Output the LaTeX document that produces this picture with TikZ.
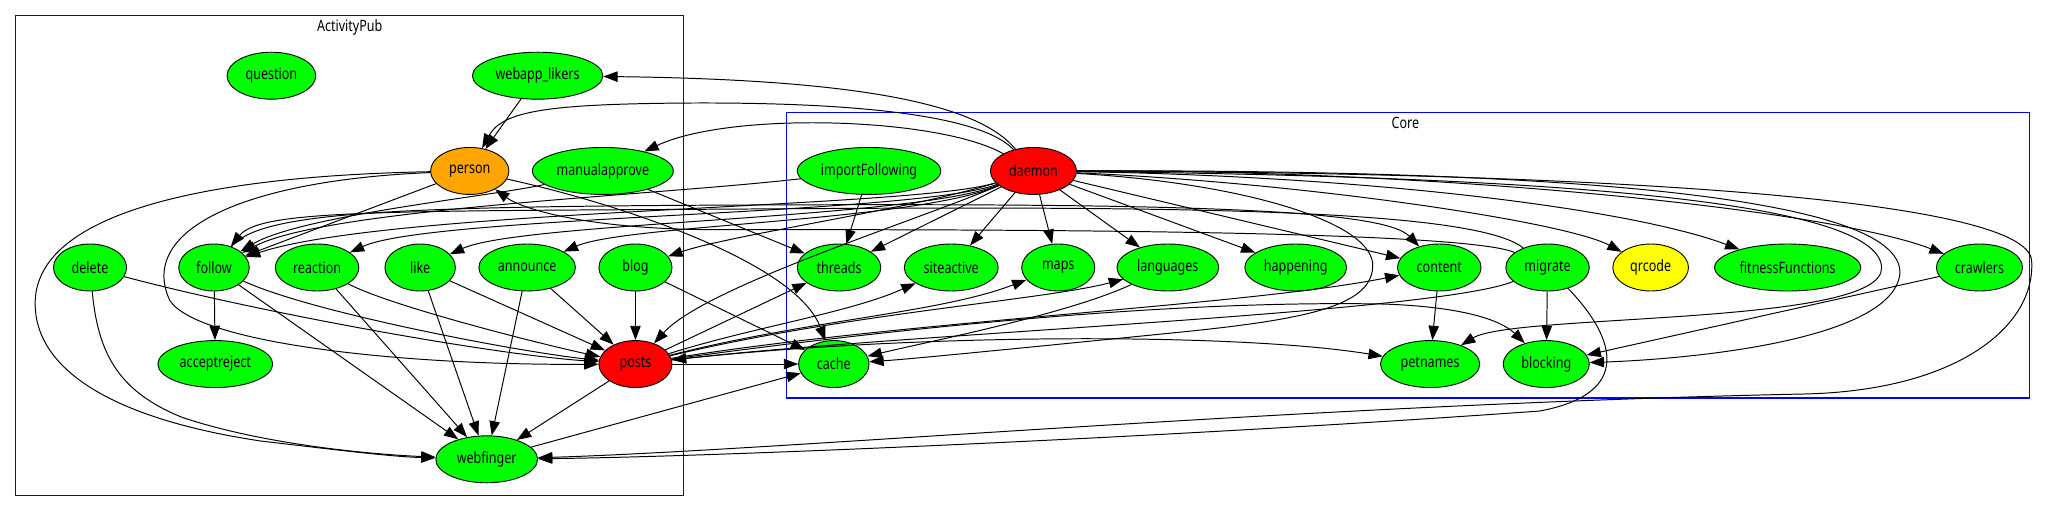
\documentclass[tikz,border=0pt]{standalone}
\usepackage{fontspec}
\setmainfont{Noto Sans}[FakeStretch=0.8]
\usetikzlibrary{shapes.geometric,arrows.meta}
\definecolor{gv green}{HTML}{00FF00}
\definecolor{gv red}{HTML}{FF0000}
\definecolor{gv orange}{HTML}{FFA500}
\definecolor{gv yellow}{HTML}{FFFF00}
\definecolor{gv blue}{HTML}{0000FF}
\begin{document}
\begin{tikzpicture}[x=1pt,y=-1pt,
  gnode/.style={ellipse,draw=black,line width=0.7pt,minimum height=36pt,inner sep=0pt,font=\fontsize{12}{14}\selectfont},
  gr/.style={gnode,fill=gv green},
  rd/.style={gnode,fill=gv red},
  og/.style={gnode,fill=gv orange},
  yl/.style={gnode,fill=gv yellow},
  edge/.style={draw=black,line width=0.75pt,-{Triangle[length=11pt,width=8pt]}},
  cluster/.style={draw=gv blue,line width=0.8pt},
  clabel/.style={font=\fontsize{12}{14}\selectfont,inner sep=0pt}]
\useasboundingbox (0,0) rectangle (1568,392);
% clusters
\draw[cluster] (12,12) rectangle (524,380);
\node[clabel] (lab1) at (268,21) {ActivityPub};
\draw[cluster] (603,86) rectangle (1555,305);
\node[clabel] (lab2) at (1077,94) {Core};
% nodes
\node[gr,minimum width=68pt] (question) at (208,58) {question};
\node[gr,minimum width=100pt] (webapp_likers) at (412,58) {webapp\_likers};
\node[og,minimum width=60pt] (person) at (360,131) {person};
\node[gr,minimum width=108pt] (manualapprove) at (462,131) {manualapprove};
\node[gr,minimum width=110pt] (importFollowing) at (666,131) {importFollowing};
\node[rd,minimum width=66pt] (daemon) at (792,131) {daemon};
\node[gr,minimum width=56pt] (delete) at (69,205) {delete};
\node[gr,minimum width=54pt] (follow) at (164,205) {follow};
\node[gr,minimum width=64pt] (reaction) at (243,205) {reaction};
\node[gr,minimum width=54pt] (like) at (322,205) {like};
\node[gr,minimum width=74pt] (announce) at (404,205) {announce};
\node[gr,minimum width=56pt] (blog) at (487,205) {blog};
\node[gr,minimum width=64pt] (threads) at (643,205) {threads};
\node[gr,minimum width=72pt] (siteactive) at (729,205) {siteactive};
\node[gr,minimum width=56pt] (maps) at (811,205) {maps};
\node[gr,minimum width=78pt] (languages) at (895,205) {languages};
\node[gr,minimum width=78pt] (happening) at (993,205) {happening};
\node[gr,minimum width=64pt] (content) at (1103,205) {content};
\node[gr,minimum width=64pt] (migrate) at (1186,205) {migrate};
\node[yl,minimum width=58pt] (qrcode) at (1265,205) {qrcode};
\node[gr,minimum width=112pt] (fitnessFunctions) at (1370,205) {fitnessFunctions};
\node[gr,minimum width=66pt] (crawlers) at (1517,205) {crawlers};
\node[gr,minimum width=88pt] (acceptreject) at (165,279) {acceptreject};
\node[rd,minimum width=56pt] (posts) at (487,279) {posts};
\node[gr,minimum width=54pt] (cache) at (639,279) {cache};
\node[gr,minimum width=76pt] (petnames) at (1096,279) {petnames};
\node[gr,minimum width=66pt] (blocking) at (1185,279) {blocking};
\node[gr,minimum width=78pt] (webfinger) at (373,352) {webfinger};
% edges from daemon
\draw[edge] (daemon) .. controls (750,80) and (660,61) .. (webapp_likers);
\draw[edge] (daemon) .. controls (750,86) and (640,78) .. (520,79) .. controls (420,80) and (385,85) .. (person);
\draw[edge] (daemon) .. controls (720,90) and (560,85) .. (manualapprove);
\draw[edge] (daemon) -- (threads);
\draw[edge] (daemon) -- (siteactive);
\draw[edge] (daemon) -- (maps);
\draw[edge] (daemon) -- (languages);
\draw[edge] (daemon) -- (happening);
\draw[edge] (daemon) -- (content);
\draw[edge] (daemon) .. controls (1000,140) and (1200,170) .. (qrcode);
\draw[edge] (daemon) .. controls (1050,135) and (1250,160) .. (fitnessFunctions);
\draw[edge] (daemon) .. controls (1100,130) and (1400,160) .. (crawlers);
\draw[edge] (daemon) .. controls (1150,135) and (1440,150) .. (1442,205) .. controls (1444,250) and (1160,240) .. (petnames);
\draw[edge] (daemon) .. controls (1150,130) and (1460,145) .. (1456,210) .. controls (1450,260) and (1300,275) .. (blocking);
\draw[edge] (daemon) .. controls (1200,132) and (1555,150) .. (1557,200) .. controls (1560,250) and (1500,300) .. (1380,302) .. controls (1000,310) and (600,345) .. (webfinger);
\draw[edge] (daemon) .. controls (950,140) and (1055,170) .. (1052,205) .. controls (1050,235) and (1000,245) .. (900,255) .. controls (800,265) and (700,275) .. (cache);
\draw[edge] (daemon) .. controls (700,160) and (300,160) .. (follow);
\draw[edge] (daemon) .. controls (700,165) and (330,165) .. (reaction);
\draw[edge] (daemon) .. controls (700,168) and (400,170) .. (like);
\draw[edge] (daemon) .. controls (700,170) and (480,172) .. (announce);
\draw[edge] (daemon) .. controls (700,160) and (560,180) .. (blog);
\draw[edge] (daemon) .. controls (700,170) and (540,220) .. (posts);
% other top-level edges
\draw[edge] (webapp_likers) -- (person);
\draw[edge] (person) -- (follow);
\draw[edge] (person) .. controls (190,138) and (105,175) .. (130,230) .. controls (150,262) and (300,280) .. (posts);
\draw[edge] (person) .. controls (150,135) and (30,165) .. (27,230) .. controls (25,280) and (80,320) .. (200,338) .. controls (260,345) and (300,350) .. (webfinger);
\draw[edge] (person) .. controls (470,155) and (610,200) .. (cache);
\draw[edge] (manualapprove) .. controls (380,150) and (230,165) .. (follow);
\draw[edge] (manualapprove) -- (threads);
\draw[edge] (importFollowing) .. controls (500,150) and (250,160) .. (follow);
\draw[edge] (importFollowing) -- (threads);
% migrate
\draw[edge] (migrate) .. controls (1120,175) and (700,176) .. (550,176) .. controls (450,176) and (400,160) .. (person);
\draw[edge] (migrate) .. controls (1130,160) and (900,158) .. (600,160) .. controls (300,162) and (200,160) .. (follow);
\draw[edge] (follow) .. controls (200,162) and (300,158) .. (600,157) .. controls (900,156) and (1060,160) .. (content);
\draw[edge] (migrate) -- (blocking);
\draw[edge] (migrate) .. controls (1100,240) and (700,255) .. (posts);
\draw[edge] (migrate) .. controls (1230,250) and (1260,300) .. (1180,315) .. controls (900,335) and (550,350) .. (webfinger);
\draw[edge] (content) -- (petnames);
\draw[edge] (crawlers) -- (blocking);
% ActivityPub row
\draw[edge] (delete) .. controls (200,240) and (380,272) .. (posts);
\draw[edge] (delete) .. controls (75,270) and (90,300) .. (140,320) .. controls (200,340) and (280,348) .. (webfinger);
\draw[edge] (follow) -- (acceptreject);
\draw[edge] (follow) .. controls (240,240) and (400,270) .. (posts);
\draw[edge] (follow) -- (webfinger);
\draw[edge] (reaction) .. controls (300,235) and (420,265) .. (posts);
\draw[edge] (reaction) -- (webfinger);
\draw[edge] (like) -- (posts);
\draw[edge] (like) -- (webfinger);
\draw[edge] (announce) -- (posts);
\draw[edge] (announce) -- (webfinger);
\draw[edge] (blog) -- (posts);
\draw[edge] (blog) -- (cache);
% posts
\draw[edge] (posts) -- (cache);
\draw[edge] (posts) -- (webfinger);
\draw[edge] (posts) -- (threads);
\draw[edge] (posts) .. controls (580,250) and (650,240) .. (siteactive);
\draw[edge] (posts) .. controls (620,245) and (720,240) .. (maps);
\draw[edge] (posts) .. controls (650,240) and (800,230) .. (languages);
\draw[edge] (posts) .. controls (700,245) and (950,235) .. (content);
\draw[edge] (posts) .. controls (700,255) and (950,255) .. (petnames);
\draw[edge] (posts) .. controls (700,250) and (900,230) .. (1060,233) .. controls (1120,235) and (1150,245) .. (blocking);
\draw[edge] (languages) .. controls (820,240) and (720,260) .. (cache);
\draw[edge] (webfinger) -- (cache);
\end{tikzpicture}
\end{document}
